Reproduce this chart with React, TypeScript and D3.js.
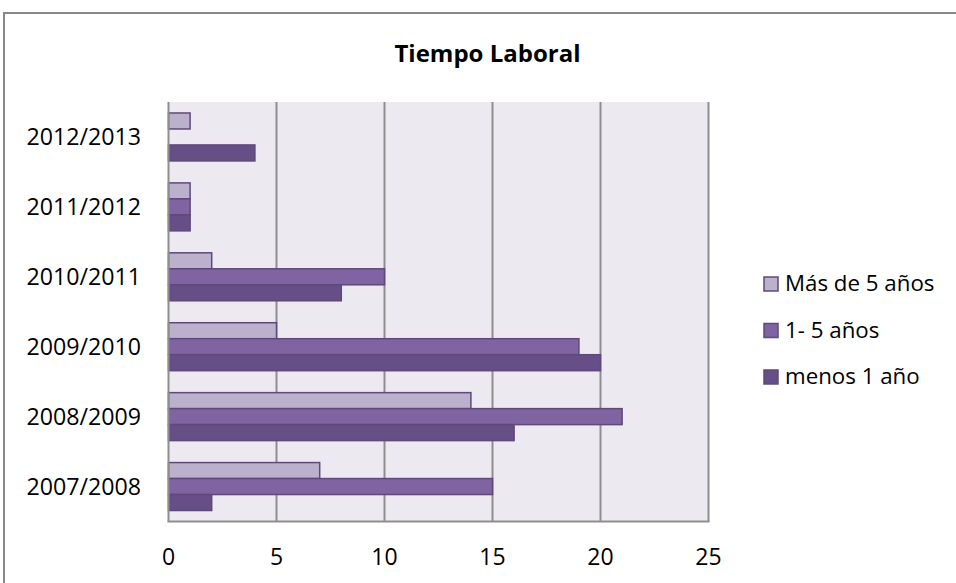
import React from "react";
import * as d3 from "d3";

const categories = ["2007/2008", "2008/2009", "2009/2010", "2010/2011", "2011/2012", "2012/2013"];
const seriesNames = ["Más de 5 años", "1- 5 años", "menos 1 año"];
const masDe5 = [7, 14, 5, 2, 1, 1];
const uno5 = [15, 21, 19, 10, 1, 0];
const menos1 = [2, 16, 20, 8, 1, 4];
const xTicks = [0, 5, 10, 15, 20, 25];
const colors = ["#BBB1CD", "#8064A2", "#664F86"];

const W = 956;
const H = 583;
const FONT = "'Open Sans', 'Noto Sans', sans-serif";

export default function App() {
  const left = 168.5, right = 708.5, top = 102, bottom = 521.5;
  const x = d3.scaleLinear().domain([0, 25]).range([left, right]);
  const y = d3.scaleBand<string>().domain([...categories].reverse()).range([top, bottom]).paddingInner(0.314).paddingOuter(0.157);
  const inner = d3.scaleBand<number>().domain([0, 1, 2]).range([0, y.bandwidth()]);
  const data = [masDe5, uno5, menos1];

  return (
    <svg width={W} height={H} style={{ position: "absolute", left: 0, top: 0 }}>
      <rect x={0} y={0} width={W} height={H} fill="#fff" />
      <rect x={4} y={13} width={W + 20} height={H + 20} fill="#fff" stroke="#878787" strokeWidth={2} />
      <text x={487.5} y={62} textAnchor="middle" fontFamily={FONT} fontWeight="bold" fontSize={24} fill="#000">
        Tiempo Laboral
      </text>
      <rect x={left} y={top} width={right - left} height={bottom - top} fill="#ECEAF0" />
      {xTicks.slice(1, -1).map((t) => (
        <line key={t} x1={x(t)} x2={x(t)} y1={top} y2={bottom} stroke="#8E8E8E" strokeWidth={2} />
      ))}
      {categories.map((c, i) =>
        data.map((s, k) =>
          s[i] > 0 ? (
            <rect
              key={c + k}
              x={x(0)}
              y={(y(c) as number) + (inner(k) as number)}
              width={x(s[i]) - x(0)}
              height={inner.bandwidth()}
              fill={colors[k]}
              stroke="#5F497A"
              strokeWidth={1.5}
            />
          ) : null
        )
      )}
      <line x1={left} x2={left} y1={top} y2={bottom} stroke="#8E8E8E" strokeWidth={2} />
      <line x1={right} x2={right} y1={top} y2={bottom} stroke="#8E8E8E" strokeWidth={2} />
      <line x1={left - 1} x2={right + 1} y1={bottom} y2={bottom} stroke="#8E8E8E" strokeWidth={2} />
      {xTicks.map((t) => (
        <text key={t} x={x(t)} y={565} textAnchor="middle" fontFamily={FONT} fontSize={23} fill="#000">
          {t}
        </text>
      ))}
      {categories.map((c) => (
        <text key={c} x={141} y={(y(c) as number) + y.bandwidth() / 2 + 8.5} textAnchor="end" fontFamily={FONT} fontSize={23.2} fill="#000">
          {c}
        </text>
      ))}
      {seriesNames.map((n, k) => (
        <g key={n} transform={`translate(764, ${277 + k * 46.5})`}>
          <rect x={0} y={0} width={14} height={14} fill={colors[k]} stroke="#5F497A" strokeWidth={1.5} />
          <text x={21} y={14} fontFamily={FONT} fontSize={22.3} fill="#000">
            {n}
          </text>
        </g>
      ))}
    </svg>
  );
}
